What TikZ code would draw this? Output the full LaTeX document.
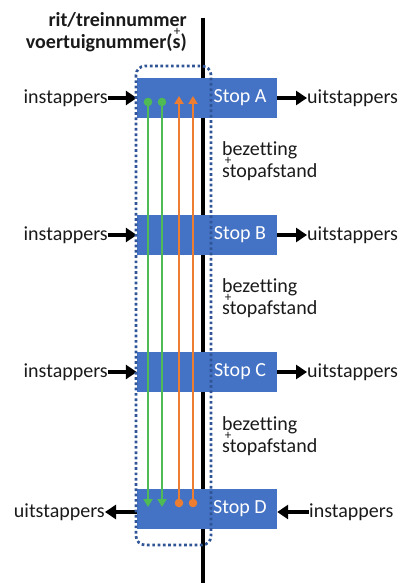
\documentclass[tikz,border=0pt]{standalone}
\usepackage{fontspec}
\setmainfont{Carlito}[Ligatures={NoCommon}]
\usetikzlibrary{arrows.meta}
\definecolor{stopblue}{HTML}{4472C4}
\definecolor{framblue}{HTML}{2F5597}
\definecolor{linegreen}{HTML}{4EBB54}
\definecolor{lineorange}{HTML}{ED7D31}
\definecolor{ink}{HTML}{1A1A1A}
\tikzset{
  txt/.style={font=\fontsize{20}{22}\selectfont, inner sep=0pt, text=ink},
  stopbox/.style={draw=none, fill=stopblue, minimum width=140pt, minimum height=40pt, inner sep=0pt},
  stoplabel/.style={txt, text=white},
  flow/.style={line width=4.5pt, -{Triangle[length=11pt,width=14pt]}},
  plus/.style={font=\fontsize{13}{13}\selectfont, inner sep=0pt, text=ink},
  green line/.style={draw=linegreen, line width=2.7pt},
  orange line/.style={draw=lineorange, line width=2.7pt},
  tip/.style={-{Triangle[length=8pt,width=9pt]}},
}
\begin{document}
\begin{tikzpicture}[x=1pt,y=-1pt]
\useasboundingbox (0,0) rectangle (405,583);

% timeline of the vehicle
\draw[line width=4pt] (203,18) -- (203,583);

% stops
\node[stopbox] (sa) at (207,98) {};
\node[stopbox] (sb) at (207,235) {};
\node[stopbox] (sc) at (207,372) {};
\node[stopbox] (sd) at (207,509) {};
\node[stoplabel] at (240,98) {Stop A};
\node[stoplabel] at (240,235) {Stop B};
\node[stoplabel] at (240,372) {Stop C};
\node[stoplabel] at (240,509) {Stop D};

% header
\node[txt, font=\fontsize{20}{22}\selectfont\bfseries, anchor=east] (rit) at (187,20) {rit/treinnummer};
\node[plus] at (177,32) {+};
\node[txt, font=\fontsize{20}{22}\selectfont\bfseries, anchor=east] (voe) at (187,43) {voertuignummer(s)};

% boarding and alighting
\node[txt, anchor=east] (ia) at (108,98) {instappers};
\node[txt, anchor=west] (ua) at (307,98) {uitstappers};
\node[txt, anchor=east] (ib) at (108,235) {instappers};
\node[txt, anchor=west] (ub) at (307,235) {uitstappers};
\node[txt, anchor=east] (ic) at (108,372) {instappers};
\node[txt, anchor=west] (uc) at (307,372) {uitstappers};
\node[txt, anchor=east] (ud) at (105,512) {uitstappers};
\node[txt, anchor=west] (id) at (309,512) {instappers};

\draw[flow] (ia.east) -- (sa.west);
\draw[flow] (sa.east) -- (ua.west);
\draw[flow] (ib.east) -- (sb.west);
\draw[flow] (sb.east) -- (ub.west);
\draw[flow] (ic.east) -- (sc.west);
\draw[flow] (sc.east) -- (uc.west);
\draw[flow] (sd.west |- ud.east) -- (ud.east);
\draw[flow] (id.west) -- (sd.east |- id.west);

% occupancy and distance between stops
\foreach \y/\n in {150/ab,287/bc,425/cd}{
  \node[txt, anchor=west] (bez\n) at (222,\y) {bezetting};
  \node[plus] at (228,\y+11) {+};
  \node[txt, anchor=west] (sto\n) at (222,\y+22) {stopafstand};
}

% passengers travelling A -> D and D -> A
\coordinate (g1a) at (148,102); \coordinate (g1d) at (148,507);
\coordinate (g2a) at (162,102); \coordinate (g2d) at (162,507);
\coordinate (o1d) at (179,503); \coordinate (o1a) at (179,96);
\coordinate (o2d) at (193,503); \coordinate (o2a) at (193,96);
\draw[green line, tip] (g1a) -- (g1d);
\draw[green line, tip] (g2a) -- (g2d);
\draw[orange line, tip] (o1d) -- (o1a);
\draw[orange line, tip] (o2d) -- (o2a);
\fill[linegreen] (g1a) circle (4.3pt) (g2a) circle (4.3pt);
\fill[lineorange] (o1d) circle (4.3pt) (o2d) circle (4.3pt);

% vehicle frame
\draw[framblue, line width=2.7pt, dash pattern=on 2.7pt off 2.6pt, rounded corners=9pt]
  (136,66) rectangle (211,545);
\end{tikzpicture}
\end{document}
